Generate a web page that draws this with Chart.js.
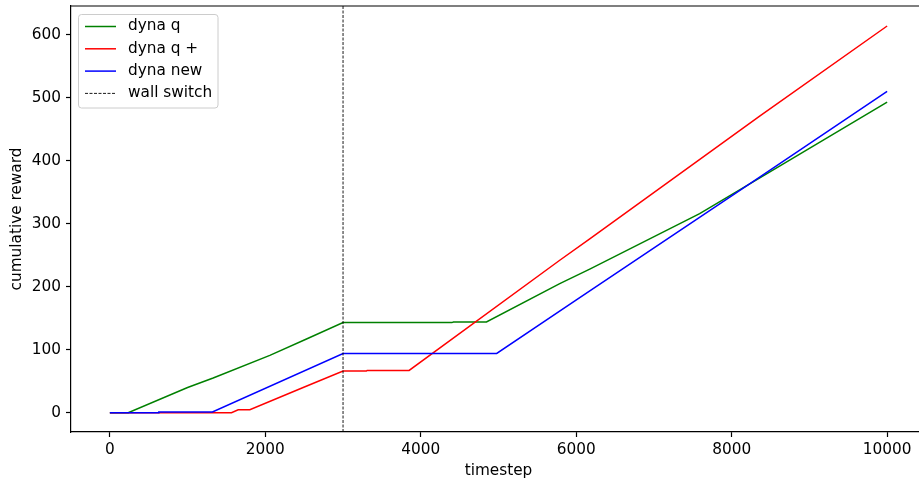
<!DOCTYPE html>
<html>
<head>
<meta charset="utf-8">
<title>cumulative reward</title>
<script src="https://cdn.jsdelivr.net/npm/chart.js@4"></script>
<style>
  html, body { margin: 0; padding: 0; background: #fff; overflow: hidden; }
  #wrap { width: 926px; height: 480px; }
  canvas { display: block; }
</style>
</head>
<body>
<div id="wrap"><canvas id="chart" width="926" height="480"></canvas></div>
<script>
// Cumulative reward per timestep for the three agents (breakpoints of each run).
const dynaQSteps   = [0, 236, 1000, 1329, 2058, 2530, 3000, 4400, 4420, 4845, 5788, 6174, 7588, 8270, 10000];
const dynaQReward  = [0, 0, 40, 55, 91, 117, 143, 143, 144, 144, 205, 228, 316, 366, 493];

const dynaQPlusSteps  = [0, 1565, 1651, 1801, 2487, 3000, 3300, 3310, 3850, 5788, 6174, 8360, 10000];
const dynaQPlusReward = [0, 0, 4.5, 4.5, 40, 66, 66, 67, 67, 242, 276, 471, 614];

const dynaNewSteps  = [0, 620, 630, 1320, 3000, 4977, 6002, 8360, 10000];
const dynaNewReward = [0, 0, 1, 1, 94, 94, 179, 374, 510];

// Timestep at which the wall is moved.
const wallSwitchStep = 3000;

// Axis ticks.
const xTicks = [0, 2000, 4000, 6000, 8000, 10000];
const yTicks = [0, 100, 200, 300, 400, 500, 600];

const seriesLabels = ['dyna q', 'dyna q +', 'dyna new', 'wall switch'];

// Axis bounds (5% margins around the data range).
const X_MIN = -500, X_MAX = 10500;
const Y_MIN = -30.75, Y_MAX = 645.75;

const toPoints = (xs, ys) => xs.map((x, i) => ({ x: x, y: ys[i] }));

const FONT_SIZE = 15.3;
Chart.defaults.font.family = "'DejaVu Sans', sans-serif";
Chart.defaults.font.size = FONT_SIZE;
Chart.defaults.color = '#000';

const FONT = FONT_SIZE + "px 'DejaVu Sans', sans-serif";

// Matplotlib-style frame: top spine and boxed legend.
const framePlugin = {
  id: 'frame',
  afterDatasetsDraw(chart) {
    const { ctx, chartArea } = chart;
    ctx.save();
    ctx.strokeStyle = '#000';
    ctx.lineWidth = 1.2;
    ctx.beginPath();
    ctx.moveTo(chartArea.left, chartArea.top);
    ctx.lineTo(chartArea.right, chartArea.top);
    ctx.stroke();
    ctx.restore();
  },
  afterDraw(chart) {
    const { ctx } = chart;
    const bx = 78.5, by = 14.5, bw = 139.5, bh = 93.5, r = 3;
    ctx.save();
    ctx.beginPath();
    ctx.moveTo(bx + r, by);
    ctx.lineTo(bx + bw - r, by);
    ctx.arcTo(bx + bw, by, bx + bw, by + r, r);
    ctx.lineTo(bx + bw, by + bh - r);
    ctx.arcTo(bx + bw, by + bh, bx + bw - r, by + bh, r);
    ctx.lineTo(bx + r, by + bh);
    ctx.arcTo(bx, by + bh, bx, by + bh - r, r);
    ctx.lineTo(bx, by + r);
    ctx.arcTo(bx, by, bx + r, by, r);
    ctx.closePath();
    ctx.fillStyle = 'rgba(255,255,255,0.8)';
    ctx.fill();
    ctx.strokeStyle = '#cccccc';
    ctx.lineWidth = 1;
    ctx.stroke();

    // Entries in plotting order: dyna q, dyna q +, dyna new, wall switch.
    const entries = chart.data.datasets.slice().sort((a, b) => b.order - a.order);
    entries.forEach((ds, i) => {
      const y = 26.5 + i * 22.3;
      ctx.beginPath();
      ctx.setLineDash(ds.borderDash || []);
      ctx.strokeStyle = ds.borderColor;
      ctx.lineWidth = ds.borderWidth;
      ctx.moveTo(85, y);
      ctx.lineTo(116, y);
      ctx.stroke();
      ctx.setLineDash([]);
      ctx.fillStyle = '#000';
      ctx.font = FONT;
      ctx.textBaseline = 'middle';
      ctx.textAlign = 'left';
      ctx.fillText(ds.label, 128, y);
    });
    ctx.restore();
  }
};

new Chart(document.getElementById('chart'), {
  type: 'line',
  data: {
    datasets: [
      {
        label: seriesLabels[0],
        data: toPoints(dynaQSteps, dynaQReward),
        borderColor: '#008000',
        borderWidth: 1.5,
        order: 3
      },
      {
        label: seriesLabels[1],
        data: toPoints(dynaQPlusSteps, dynaQPlusReward),
        borderColor: '#ff0000',
        borderWidth: 1.5,
        order: 2
      },
      {
        label: seriesLabels[2],
        data: toPoints(dynaNewSteps, dynaNewReward),
        borderColor: '#0000ff',
        borderWidth: 1.5,
        order: 1
      },
      {
        label: seriesLabels[3],
        data: [{ x: wallSwitchStep, y: Y_MIN }, { x: wallSwitchStep, y: Y_MAX }],
        borderColor: '#000',
        borderWidth: 0.9,
        borderDash: [3, 1.5],
        order: 0
      }
    ]
  },
  options: {
    responsive: false,
    animation: false,
    devicePixelRatio: 1,
    layout: { padding: { top: 6, left: 0, right: 0, bottom: 0 } },
    elements: {
      point: { radius: 0, hoverRadius: 0 },
      line: { tension: 0, fill: false }
    },
    plugins: {
      legend: { display: false },
      tooltip: { enabled: false }
    },
    scales: {
      x: {
        type: 'linear',
        position: 'bottom',
        min: X_MIN,
        max: X_MAX,
        afterBuildTicks: s => { s.ticks = xTicks.map(v => ({ value: v })); },
        afterFit: s => { s.height = 48; s.paddingLeft = 0; s.paddingRight = 0; },
        ticks: {
          callback: v => String(v),
          maxRotation: 0,
          autoSkip: false,
          padding: 4,
          color: '#000'
        },
        grid: {
          display: true,
          drawOnChartArea: false,
          drawTicks: true,
          tickLength: 5,
          tickColor: '#000',
          tickWidth: 1.2
        },
        border: { display: true, color: '#000', width: 1.2 },
        title: {
          display: true,
          text: 'timestep',
          color: '#000',
          font: { size: FONT_SIZE },
          padding: { top: 0, bottom: 0 }
        }
      },
      y: {
        type: 'linear',
        position: 'left',
        min: Y_MIN,
        max: Y_MAX,
        afterBuildTicks: s => { s.ticks = yTicks.map(v => ({ value: v })); },
        afterFit: s => { s.width = 71; s.paddingTop = 0; s.paddingBottom = 0; },
        ticks: {
          callback: v => String(v),
          autoSkip: false,
          padding: 5,
          color: '#000'
        },
        grid: {
          display: true,
          drawOnChartArea: false,
          drawTicks: true,
          tickLength: 5,
          tickColor: '#000',
          tickWidth: 1.2
        },
        border: { display: true, color: '#000', width: 1.2 },
        title: {
          display: true,
          text: 'cumulative reward',
          color: '#000',
          font: { size: FONT_SIZE },
          padding: { top: 8, bottom: 0 }
        }
      }
    }
  },
  plugins: [framePlugin]
});
</script>
</body>
</html>
